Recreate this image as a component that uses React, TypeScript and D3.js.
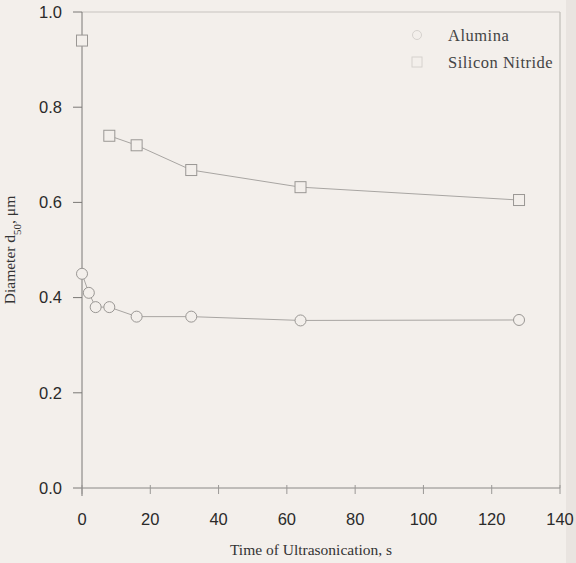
import React from "react";
import * as d3 from "d3";

const times = [0, 2, 4, 8, 16, 32, 64, 128];
const alumina = [0.45, 0.41, 0.38, 0.38, 0.36, 0.36, 0.352, 0.353];
const siliconTimes = [0, 8, 16, 32, 64, 128];
const siliconNitride = [0.94, 0.74, 0.72, 0.668, 0.632, 0.605];
const siliconLineStart = 1;
const xTicks = [0, 20, 40, 60, 80, 100, 120, 140];
const yTicks = [0.0, 0.2, 0.4, 0.6, 0.8, 1.0];
const legendLabels = ["Alumina", "Silicon Nitride"];

const W = 576, H = 563;
const left = 82, right = 560, top = 12, bottom = 488;

export default function App() {
  const x = d3.scaleLinear().domain([0, 140]).range([left, right]);
  const y = d3.scaleLinear().domain([0, 1]).range([bottom, top]);
  const line = d3.line<[number, number]>().x(d => x(d[0])).y(d => y(d[1]));
  const alPts: [number, number][] = times.map((t, i) => [t, alumina[i]]);
  const siPts: [number, number][] = siliconTimes.map((t, i) => [t, siliconNitride[i]]);
  const serif = "'Liberation Serif', 'Times New Roman', serif";
  const sans = "'Liberation Sans', Arial, sans-serif";
  const bg = "#f3efeb";
  return (
    <svg width={W} height={H} style={{ position: "absolute", left: 0, top: 0 }} xmlns="http://www.w3.org/2000/svg">
      <rect x={0} y={0} width={W} height={H} fill={bg} />
      <rect x={W - 10} y={0} width={10} height={H} fill="#e9e4e0" />
      {/* frame */}
      <line x1={left} x2={right} y1={top} y2={top} stroke="#c8c4c0" strokeWidth={1.2} />
      <line x1={right} x2={right} y1={top} y2={bottom} stroke="#c0bcb8" strokeWidth={1.2} />
      <line x1={left} x2={right} y1={bottom} y2={bottom} stroke="#8a8886" strokeWidth={1} />
      <line x1={left} x2={left} y1={top} y2={bottom + 8} stroke="#7a7876" strokeWidth={1} />
      {yTicks.map(v => (
        <g key={"y" + v}>
          <line x1={left - 9} x2={left} y1={y(v)} y2={y(v)} stroke="#7a7876" />
          <text x={left - 20} y={y(v)} dy="0.35em" textAnchor="end" fontFamily={sans} fontSize={16.5} fill="#2a2a2a">
            {d3.format(".1f")(v)}
          </text>
        </g>
      ))}
      {xTicks.map(v => (
        <g key={"x" + v}>
          <line x1={x(v)} x2={x(v)} y1={bottom - 3} y2={bottom + 6} stroke="#9a9896" />
          <text x={x(v)} y={525} textAnchor="middle" fontFamily={sans} fontSize={16.5} fill="#2a2a2a">
            {v}
          </text>
        </g>
      ))}
      <text x={(left + right) / 2 - 10} y={555} textAnchor="middle" fontFamily={serif} fontSize={15.5} fill="#333">
        Time of Ultrasonication, s
      </text>
      <text transform={`translate(15, ${250}) rotate(-90)`} textAnchor="middle" fontFamily={serif} fontSize={15.5} fill="#333">
        Diameter d<tspan baselineShift="sub" fontSize={11}>50</tspan>, μm
      </text>
      {/* lines */}
      <path d={line(alPts) || ""} fill="none" stroke="#a8a5a2" strokeWidth={1} />
      <path d={line(siPts.slice(siliconLineStart)) || ""} fill="none" stroke="#a8a5a2" strokeWidth={1} />
      {alPts.map((p, i) => (
        <circle key={"a" + i} cx={x(p[0])} cy={y(p[1])} r={5.5} fill={bg} stroke="#9a9794" strokeWidth={1} />
      ))}
      {siPts.map((p, i) => (
        <rect key={"s" + i} x={x(p[0]) - 5.5} y={y(p[1]) - 5.5} width={11} height={11} fill={bg} stroke="#9a9794" strokeWidth={1} />
      ))}
      {/* legend */}
      <circle cx={417} cy={35} r={4.5} fill={bg} stroke="#d6d2ce" />
      <rect x={412} y={57} width={10} height={10} fill={bg} stroke="#d6d2ce" />
      <text x={448} y={41} fontFamily={serif} fontSize={16.5} fill="#444" letterSpacing={0.5}>{legendLabels[0]}</text>
      <text x={448} y={68} fontFamily={serif} fontSize={16.5} fill="#444" letterSpacing={0.5}>{legendLabels[1]}</text>
    </svg>
  );
}
